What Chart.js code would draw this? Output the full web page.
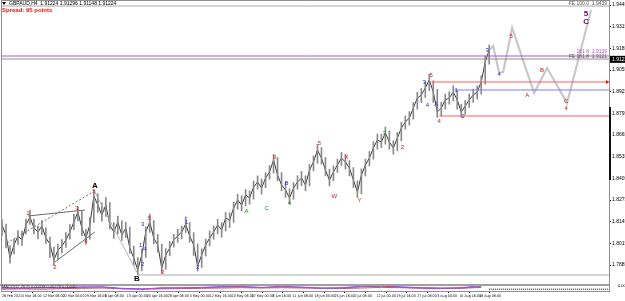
<!DOCTYPE html>
<html>
<head>
<meta charset="utf-8">
<script src="https://cdn.jsdelivr.net/npm/chart.js@4.4.1/dist/chart.umd.min.js"></script>
<style>
  html, body { margin: 0; padding: 0; background: #fff; }
</style>
</head>
<body>
<canvas id="chart" width="625" height="301"></canvas>
<script>
// H4 bars, one value per slot
const closes = [
  1.8125,1.8065,1.7927,1.8005,1.8059,1.8035,1.8125,1.8173,1.8107,1.8083,
  1.8119,1.8047,1.8011,1.7915,1.7975,1.7999,1.8035,1.8083,1.8143,1.8203,
  1.8107,1.8047,1.8125,1.8299,1.8245,1.8185,1.8245,1.8125,1.8083,1.8143,
  1.8065,1.8107,1.7987,1.7927,1.7855,1.7945,1.8083,1.8143,1.8047,1.8005,
  1.7867,1.7945,1.7987,1.8035,1.8059,1.8083,1.8131,1.8059,1.8005,1.7879,
  1.7945,1.8005,1.8047,1.8083,1.8125,1.8095,1.8167,1.8155,1.8227,1.8275,
  1.8245,1.8305,1.8287,1.8353,1.8383,1.8347,1.8407,1.8443,1.8515,1.8425,
  1.8365,1.8335,1.8287,1.8347,1.8383,1.8407,1.8365,1.8455,1.8503,1.8575,
  1.8527,1.8455,1.8395,1.8443,1.8485,1.8527,1.8503,1.8467,1.8395,1.8323,
  1.8425,1.8485,1.8527,1.8587,1.8635,1.8623,1.8677,1.8623,1.8587,1.8647,
  1.8707,1.8743,1.8767,1.8827,1.8887,1.8905,1.8947,1.8995,1.8923,1.8803,
  1.8827,1.8875,1.8887,1.8923,1.8875,1.8803,1.8839,1.8875,1.8905,1.8923,
  1.8983,1.9103,1.9175
];
const highs = [
  1.8158,1.8131,1.8002,1.8041,1.8092,1.8088,1.8160,1.8215,1.8161,1.8118,
  1.8152,1.8108,1.8052,1.7992,1.8010,1.8038,1.8079,1.8127,1.8190,1.8236,
  1.8210,1.8099,1.8170,1.8335,1.8312,1.8258,1.8290,1.8260,1.8139,1.8178,
  1.8150,1.8141,1.8112,1.7998,1.7930,1.7981,1.8115,1.8190,1.8152,1.8068,
  1.8010,1.7983,1.8026,1.8069,1.8100,1.8119,1.8174,1.8140,1.8079,1.8011,
  1.7982,1.8041,1.8090,1.8120,1.8160,1.8139,1.8200,1.8198,1.8262,1.8310,
  1.8301,1.8338,1.8330,1.8389,1.8420,1.8401,1.8440,1.8482,1.8548,1.8530,
  1.8440,1.8380,1.8342,1.8380,1.8421,1.8446,1.8420,1.8489,1.8540,1.8610,
  1.8590,1.8530,1.8460,1.8479,1.8520,1.8560,1.8550,1.8512,1.8470,1.8390,
  1.8462,1.8520,1.8566,1.8625,1.8671,1.8670,1.8712,1.8690,1.8630,1.8680,
  1.8741,1.8779,1.8805,1.8860,1.8921,1.8944,1.8985,1.9030,1.8990,1.8940,
  1.8862,1.8910,1.8925,1.8960,1.8930,1.8850,1.8872,1.8911,1.8940,1.8960,
  1.9020,1.9140,1.9205
];
const lows = [
  1.8061,1.7988,1.7896,1.7951,1.8009,1.8002,1.8071,1.8128,1.8072,1.8041,
  1.8068,1.8015,1.7930,1.7882,1.7921,1.7958,1.7990,1.8040,1.8097,1.8150,
  1.8061,1.8009,1.8040,1.8140,1.8201,1.8148,1.8176,1.8101,1.8044,1.8072,
  1.8032,1.8050,1.7955,1.7884,1.7828,1.7850,1.7930,1.8081,1.8011,1.7962,
  1.7838,1.7860,1.7940,1.7992,1.8021,1.8041,1.8080,1.8022,1.7942,1.7849,
  1.7870,1.7939,1.8000,1.8039,1.8071,1.8052,1.8089,1.8110,1.8141,1.8220,
  1.8210,1.8240,1.8250,1.8280,1.8340,1.8310,1.8349,1.8400,1.8436,1.8390,
  1.8330,1.8290,1.8252,1.8280,1.8340,1.8361,1.8330,1.8360,1.8450,1.8495,
  1.8490,1.8420,1.8359,1.8390,1.8440,1.8482,1.8461,1.8420,1.8350,1.8290,
  1.8312,1.8419,1.8479,1.8520,1.8580,1.8589,1.8610,1.8580,1.8550,1.8570,
  1.8630,1.8700,1.8725,1.8760,1.8820,1.8860,1.8890,1.8930,1.8860,1.8770,
  1.8780,1.8820,1.8850,1.8870,1.8820,1.8772,1.8790,1.8830,1.8860,1.8880,
  1.8910,1.8970,1.9090
];

// projected wave path
const projX = [122, 123, 124.5, 125.5, 127.75, 133.25, 136.5, 141.5, 147.5];
const projY = [1.9175, 1.9199, 1.9037, 1.9043, 1.9307, 1.8917, 1.9067, 1.8857, 1.9415];

// time axis
const dateTicks = [0,5,10.25,15.25,20.75,25.75,31.25,36.25,41.5,47,52,57.5,62.5,67.75,72.75,78.25,83.25,88.25,93.75,98.75,104,109,114.5,119.5];
const dateLabels = ['26 Feb 2021','5 Mar 16:00','12 Mar 08:00','22 Mar 00:00','29 Mar 16:00','6 Apr 08:00',
  '13 Apr 00:00','20 Apr 16:00','28 Apr 08:00','5 May 00:00','12 May 16:00','20 May 08:00','27 May 00:00',
  '3 Jun 16:00','11 Jun 08:00','18 Jun 00:00','25 Jun 16:00','2 Jul 08:00','12 Jul 00:00','19 Jul 16:00',
  '27 Jul 08:00','3 Aug 00:00','10 Aug 16:00','18 Aug 08:00'];

// price axis
const priceTicks = [1.9445,1.9380,1.9315,1.9250,1.9185,1.9120,1.9055,1.8990,1.8925,1.8860,1.8795,1.8730,
  1.8665,1.8600,1.8535,1.8470,1.8405,1.8340,1.8275,1.8210,1.8145,1.8080,1.8015,1.7950,1.7885,1.7820];
const currentPrice = 1.9122;

// horizontal levels
const levelPrice = [1.9439, 1.9139, 1.9121, 1.8983, 1.8935, 1.8779, 1.7825];
const levelFrom  = [0, 0, 0, 107.5, 113.25, 109.5, 34];
const levelText  = ['FE 100.0  1.9439', '161.8  1.9139', 'FE 161.8  1.9121', '', '', '', ''];

// channel lines of the A leg
const chanX1 = [6.5, 1.25, 13.25, 23.25];
const chanY1 = [1.8179, 1.8017, 1.7903, 1.8323];
const chanX2 = [20.75, 22.75, 23.25, 33.75];
const chanY2 = [1.8215, 1.8323, 1.8083, 1.7843];

// wave labels
const waveText = ['A','B','1','2','3','4','5','1','2','3','4','5','2','1','2','A','C','B','3','4','5','W','X','Y',
  '3','2','3','5','4','A','4','1','2','3','4','5','A','B','C','4','5','C'];
const waveX = [23.25,33.75,6.5,13.25,18.75,21,23,34.75,35.25,35.25,35.75,37,40.25,46.25,49,61.25,66.25,71.25,68.25,72,79.5,83.25,86.25,89.5,
  95.75,100.25,105.75,107.5,106.5,108.75,109.5,113.75,115.5,121.5,124.5,127.5,131.5,135.25,141.25,141.25,146.25,146.25];
const waveY = [1.8359,1.7801,1.8197,1.7873,1.8227,1.8029,1.8329,1.8005,1.7891,1.8131,1.7981,1.8167,1.7843,1.8143,1.7873,1.8209,1.8227,1.8377,1.8533,1.8257,1.8617,1.8299,1.8533,1.8275,
  1.8677,1.8593,1.8983,1.9025,1.8845,1.8851,1.8749,1.8935,1.8779,1.9175,1.9031,1.9259,1.8905,1.9055,1.8869,1.8827,1.9391,1.9343];
const waveKind = ['k','k','r','r','r','r','r','b','b','b','b','r','r','b','b','g','g','b','r','g','r','r','r','r',
  'g','r','b','r','b','b','r','b','b','b','b','r','r','r','r','r','p','p'];

// oscillator panel
const indX = [0,5,10,15,20,25,30,35,40,45,50,55,60,65,70,75,80,85,90,95,100,105,110,115,120];
const indPurple = [0.55,0.45,0.6,0.5,0.7,0.65,0.35,0.3,0.55,0.5,0.6,0.75,0.7,0.55,0.8,0.6,0.45,0.55,0.8,0.85,0.6,0.5,0.45,0.55,0.9];
const indBlue = [0.45,0.5,0.5,0.55,0.6,0.7,0.45,0.35,0.45,0.55,0.55,0.65,0.75,0.6,0.7,0.65,0.5,0.5,0.7,0.8,0.7,0.55,0.5,0.5,0.75];
const indRed = [0.3,0.35,0.3,0.4,0.45,0.5,0.4,0.3,0.35,0.4,0.45,0.5,0.55,0.5,0.55,0.5,0.45,0.4,0.5,0.6,0.55,0.45,0.4,0.45,0.6];

const X_MAX = 152;
const FONT = '"Liberation Sans", Arial, sans-serif';
const NARROW = '"Liberation Sans Narrow", "DejaVu Sans Condensed", "Liberation Sans", sans-serif';
const kindColor = { k: '#000000', r: '#e81010', b: '#2626e0', g: '#118a11', p: '#5a0a5a' };
const levelColor = ['#a8a8a8', '#b455c8', '#8c8c8c', '#ff5a5a', '#7c7cff', '#ff5a5a', '#a8a8a8'];

const datasets = [];

// levels
levelPrice.forEach((p, i) => {
  datasets.push({
    data: [{ x: levelFrom[i], y: p }, { x: X_MAX, y: p }],
    borderColor: levelColor[i], borderWidth: 1, yAxisID: 'y'
  });
});

// channel lines
chanX1.forEach((x1, i) => {
  datasets.push({
    data: [{ x: x1, y: chanY1[i] }, { x: chanX2[i], y: chanY2[i] }],
    borderColor: i === 3 ? '#b4b4b4' : '#6a6a6a', borderWidth: 1,
    borderDash: i === 1 ? [2, 2] : [], yAxisID: 'y'
  });
});

// bar ranges (high-low)
datasets.push({
  type: 'bar',
  data: closes.map((c, i) => ({ x: i, y: [lows[i], highs[i]] })),
  backgroundColor: '#8a8a8a', barThickness: 1, yAxisID: 'y'
});

// closes
datasets.push({
  data: closes.map((c, i) => ({ x: i, y: c })),
  borderColor: '#3a3a3a', borderWidth: 1, yAxisID: 'y'
});

// projection
datasets.push({
  data: projX.map((x, i) => ({ x: x, y: projY[i] })),
  borderColor: '#c8c8c8', borderWidth: 2.2, yAxisID: 'y'
});

// oscillator
[[indPurple, '#c040e0'], [indBlue, '#4a6cff'], [indRed, '#e05050']].forEach(([vals, col]) => {
  datasets.push({
    data: vals.map((v, i) => ({ x: indX[i], y: v })),
    borderColor: col, borderWidth: 1, yAxisID: 'y2'
  });
});
datasets.push({
  data: [{ x: 122, y: 0.3 }, { x: X_MAX, y: 0.3 }],
  borderColor: '#000', borderWidth: 1, borderDash: [1, 1], yAxisID: 'y2'
});

const overlay = {
  id: 'overlay',
  afterDatasetsDraw(chart) {
    const { ctx, chartArea: a, scales: { x, y, y2 } } = chart;
    ctx.save();

    // panel separator
    ctx.fillStyle = '#a0a0a0';
    ctx.fillRect(0, y2.top - 1, a.right + 1, 2);

    // frame
    ctx.strokeStyle = '#909090';
    ctx.lineWidth = 1;
    ctx.strokeRect(a.left - 0.5, a.top + 0.5, a.right - a.left + 1, a.bottom - a.top);

    // dark marker on the right edge
    ctx.fillStyle = '#111';
    ctx.fillRect(a.right, y.getPixelForValue(1.8833), 2, y.getPixelForValue(1.8395) - y.getPixelForValue(1.8833));

    // wave labels
    ctx.textAlign = 'center';
    ctx.textBaseline = 'middle';
    waveText.forEach((t, i) => {
      const big = waveKind[i] === 'k' || waveKind[i] === 'p';
      ctx.font = (big ? 'bold 8px ' : '6px ') + FONT;
      ctx.fillStyle = kindColor[waveKind[i]];
      ctx.fillText(t, x.getPixelForValue(waveX[i]), y.getPixelForValue(waveY[i]));
    });

    // level texts
    ctx.font = '5px ' + FONT;
    ctx.textAlign = 'right';
    ctx.textBaseline = 'bottom';
    levelText.forEach((t, i) => {
      if (!t) return;
      ctx.fillStyle = i === 1 ? '#b455c8' : '#555';
      ctx.fillText(t, a.right - 2, y.getPixelForValue(levelPrice[i]) - (i === 1 ? 2 : 0));
    });

    // current price box
    const cy = y.getPixelForValue(currentPrice);
    ctx.fillStyle = '#000';
    ctx.fillRect(a.right + 1, cy - 3, 625 - a.right, 7);
    ctx.fillStyle = '#fff';
    ctx.textAlign = 'left';
    ctx.textBaseline = 'middle';
    ctx.fillText(currentPrice.toFixed(4), a.right + 3, cy + 0.5);

    // red marker at the upper red level
    const ry = y.getPixelForValue(levelPrice[3]);
    ctx.fillStyle = '#e81010';
    ctx.beginPath();
    ctx.moveTo(a.right - 3, ry - 2); ctx.lineTo(a.right, ry); ctx.lineTo(a.right - 3, ry + 2);
    ctx.fill();

    // title
    ctx.fillStyle = '#000';
    ctx.beginPath();
    ctx.moveTo(2, 2); ctx.lineTo(6, 2); ctx.lineTo(4, 5);
    ctx.fill();
    ctx.font = '5px ' + FONT;
    ctx.textBaseline = 'top';
    ctx.fillText('GBPAUD,H4  1.91224 1.91296 1.91148 1.91224', 9, 1);
    ctx.fillStyle = '#e81010';
    ctx.font = 'bold 6px ' + FONT;
    ctx.fillText('Spread: 95 points', 2, 7);

    // oscillator caption
    ctx.fillStyle = '#222';
    ctx.font = '4px ' + FONT;
    ctx.fillText('MACD(12,26,9) 0.00318 0.00278 0.00040', 2, y2.top);

    ctx.restore();
  }
};

new Chart(document.getElementById('chart'), {
  type: 'line',
  data: { datasets: datasets },
  options: {
    responsive: false,
    animation: false,
    layout: { padding: { left: 2, top: 0, right: 0, bottom: 0 } },
    elements: { point: { radius: 0 }, line: { tension: 0 } },
    plugins: { legend: { display: false }, tooltip: { enabled: false } },
    scales: {
      x: {
        type: 'linear', min: 0, max: X_MAX, offset: false,
        grid: { drawOnChartArea: false, drawTicks: true, tickLength: 2, color: '#000' },
        border: { display: false },
        afterBuildTicks: s => { s.ticks = dateTicks.map(v => ({ value: v })); },
        afterFit: s => { s.height = 10; s.paddingLeft = 0; s.paddingRight = 0; },
        ticks: {
          autoSkip: false, maxRotation: 0, minRotation: 0, align: 'start', padding: 1,
          color: '#000', font: { size: 3.6, family: NARROW },
          callback: (v, i) => dateLabels[i]
        }
      },
      y: {
        type: 'linear', position: 'right', stack: 'main', stackWeight: 285,
        min: 1.7765, max: 1.9475,
        grid: { drawOnChartArea: false, drawTicks: true, tickLength: 2, color: '#000' },
        border: { display: false },
        afterBuildTicks: s => { s.ticks = priceTicks.map(v => ({ value: v })); },
        afterFit: s => { s.width = 16; s.paddingTop = 0; s.paddingBottom = 0; },
        ticks: {
          color: '#000', padding: 1, font: { size: 5, family: FONT },
          callback: v => v.toFixed(4)
        }
      },
      y2: {
        type: 'linear', position: 'right', stack: 'main', stackWeight: 6,
        min: 0, max: 1,
        grid: { display: false },
        border: { display: false },
        afterBuildTicks: s => { s.ticks = [{ value: 0.85 }, { value: 0.15 }]; },
        afterFit: s => { s.width = 16; s.paddingTop = 0; s.paddingBottom = 0; },
        ticks: {
          color: '#000', padding: 1, font: { size: 4, family: FONT },
          callback: v => (v > 0.5 ? '0.0049' : '-0.0026')
        }
      }
    }
  },
  plugins: [overlay]
});
</script>
</body>
</html>
